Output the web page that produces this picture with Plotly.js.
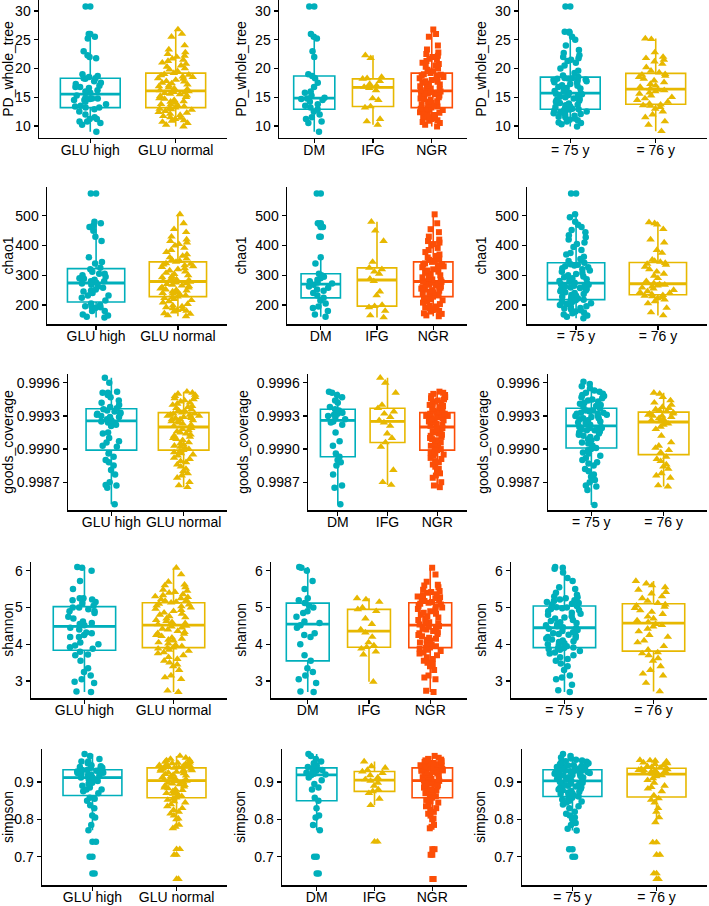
<!DOCTYPE html>
<html>
<head>
<meta charset="utf-8">
<script src="https://cdn.plot.ly/plotly-3.0.1.min.js"></script>
<style>html,body{margin:0;padding:0;background:#fff;}#chart{width:709px;height:906px;}</style>
</head>
<body>
<div id="chart"></div>
<script>
// ---------- categories ----------
const catsGLU = ['GLU high', 'GLU normal'];
const catsGroup = ['DM', 'IFG', 'NGR'];
const catsAge = ['= 75 y', '= 76 y'];
const metricNames = ['PD_whole_tree', 'chao1', 'goods_coverage', 'shannon', 'simpson'];

// ---------- tick values ----------
const pdTicks = [10, 15, 20, 25, 30];
const chaoTicks = [200, 300, 400, 500];
const goodsTicks = [0.9987, 0.9990, 0.9993, 0.9996];
const goodsTickText = ['0.9987', '0.9990', '0.9993', '0.9996'];
const shannonTicks = [3, 4, 5, 6];
const simpsonTicks = [0.7, 0.8, 0.9];

// ---------- PD_whole_tree ----------
const pdDM = [9.0,10.5,10.8,11.2,11.5,12.0,12.5,12.9,13.2,13.5,13.8,14.2,14.5,14.7,14.8,14.9,15.3,15.8,16.0,16.8,17.5,18.3,18.7,19.0,22.0,23.0,25.2,25.5,26.0,30.8];
const pdIFG = [10.2,10.8,11.2,13.2,13.4,14.5,14.8,16.2,16.6,16.8,17.0,17.3,17.8,18.2,18.3,18.5,21.8,22.3];
const pdNGR = [9.9,10.2,10.5,10.7,10.9,11.0,11.2,11.4,11.5,11.7,11.9,12.1,12.3,12.4,12.6,12.8,12.9,13.0,13.1,13.2,
  13.4,13.5,13.7,13.8,14.0,14.2,14.3,14.5,14.7,14.8,15.0,15.2,15.3,15.5,15.6,15.7,15.8,15.9,16.0,
  16.2,16.4,16.5,16.7,16.9,17.0,17.2,17.4,17.5,17.7,17.8,18.0,18.2,18.3,18.5,18.6,18.8,18.9,19.0,
  19.2,19.5,19.8,20.0,20.3,20.5,20.8,21.0,21.3,21.5,21.7,22.0,22.2,22.5,22.8,23.3,24.0,25.5,26.0,26.8];
const pd75 = [9.9,10.3,10.5,10.6,10.8,11.0,11.1,11.3,11.5,11.6,11.8,12.0,12.1,12.2,12.3,12.5,12.6,12.7,12.8,12.85,12.9,
  13.0,13.2,13.3,13.4,13.6,13.7,13.9,14.0,14.2,14.4,14.5,14.7,14.8,15.0,15.1,15.2,15.4,15.5,15.6,15.65,
  15.8,16.0,16.1,16.3,16.5,16.6,16.8,17.0,17.1,17.3,17.5,17.6,17.8,17.9,18.0,18.1,18.2,18.25,18.3,18.35,
  18.5,18.8,19.2,19.6,20.0,20.5,21.0,21.3,21.5,21.8,22.0,22.3,22.7,23.2,24.0,25.0,25.5,26.2,26.4,26.4,30.8];
const pd76 = [9.1,10.2,10.8,11.5,12.0,12.5,13.0,13.3,13.5,13.6,13.7,
  13.85,14.2,14.5,14.8,15.0,15.3,15.6,15.8,16.0,16.2,16.3,
  16.5,16.8,17.0,17.3,17.6,17.9,18.2,18.5,18.7,18.9,19.0,
  19.3,19.6,20.2,20.8,21.2,21.5,21.8,22.0,22.8,25.1,25.2];

// ---------- chao1 ----------
const chaoDM = [160,168,180,190,195,205,215,224,232,240,248,252,258,262,268,272,276,280,285,290,295,300,305,340,361,430,462,468,475,575];
const chaoIFG = [158,165,180,192,196,200,232,245,280,288,305,312,320,325,345,415,450,480];
const chaoNGR = [162,165,170,172,178,180,183,186,189,192,195,198,203,208,212,216,220,223,226,228,
  232,235,238,240,243,245,248,250,252,255,258,260,263,265,268,270,273,275,278,
  280,283,286,290,293,296,300,304,308,312,316,320,323,327,330,333,336,338,340,
  345,348,352,356,360,365,370,378,385,392,400,405,410,415,420,430,445,455,475,505];
const chao75 = [155,160,165,168,172,175,178,182,185,188,190,193,196,200,203,206,209,212,214,216,218,
  222,225,228,231,234,237,240,243,246,249,252,254,257,259,261,263,265,268,270,272,
  275,278,281,284,287,290,293,296,300,304,308,312,316,320,324,327,330,333,335,337,
  342,348,355,362,370,375,385,395,405,410,420,428,435,445,452,462,470,480,495,505,575];
const chao76 = [165,175,190,205,212,218,222,226,229,231,233,
  236,240,243,246,250,255,258,262,265,268,270,
  273,280,290,298,305,312,320,328,335,338,341,
  345,348,352,375,385,410,420,455,470,475,478];

// ---------- goods_coverage ----------
const goodsDM = [0.99850,0.99865,0.99867,0.99877,0.99885,0.99888,0.99890,0.99893,
  0.99896,0.99903,0.99907,0.99915,0.99922,0.99924,0.99925,
  0.99927,0.99929,0.99930,0.99931,0.99932,0.99933,0.99935,
  0.99936,0.99938,0.99942,0.99944,0.99947,0.99949,0.99951,0.99952];
const goodsIFG = [0.998675,0.99870,0.99881,0.99902,0.99906,0.99910,0.99914,0.99921,0.99924,
  0.99926,0.99929,0.99932,0.99934,0.99937,0.99940,0.99951,0.99960,0.999645];
const goodsNGR = [0.998655,0.99867,0.99870,0.99874,0.99876,0.99878,0.99880,0.99882,0.99884,0.99886,
  0.99888,0.99889,0.99891,0.99892,0.99894,0.99895,0.99896,0.99897,0.99898,0.99899,
  0.99900,0.99901,0.99902,0.99903,0.99904,0.99905,0.99906,0.99908,0.99909,0.99910,
  0.99911,0.99912,0.99913,0.99914,0.99915,0.99916,0.99917,0.99918,0.99919,
  0.99921,0.99922,0.99923,0.99924,0.99925,0.99925,0.99926,0.99927,0.99927,0.99928,
  0.99928,0.99929,0.99929,0.99930,0.99930,0.99931,0.99931,0.99932,0.99932,
  0.99933,0.99934,0.99935,0.99936,0.99937,0.99938,0.99939,0.99940,0.99941,0.99942,
  0.99943,0.99944,0.99945,0.99946,0.99947,0.99948,0.99949,0.99950,0.99951,0.99952];
const goods75 = [0.998494,0.99863,0.99866,0.99867,0.99870,0.99872,0.99875,0.99877,0.99880,0.99882,
  0.99885,0.99887,0.99888,0.99890,0.99892,0.99894,0.99896,0.99897,0.99899,0.99900,0.99901,
  0.99903,0.99905,0.99906,0.99908,0.99909,0.99910,0.99911,0.99912,0.99913,0.99914,
  0.99915,0.99916,0.99917,0.99917,0.99918,0.99918,0.99919,0.99919,0.99920,0.99920,
  0.99922,0.99923,0.99924,0.99925,0.99925,0.99926,0.99927,0.99928,0.99928,0.99929,
  0.99930,0.99930,0.99931,0.99932,0.99932,0.99933,0.99933,0.99934,0.99935,0.99935,
  0.99937,0.99938,0.99939,0.99940,0.99941,0.99942,0.99943,0.99944,0.99945,0.99946,
  0.99947,0.99948,0.99949,0.99950,0.99951,0.99952,0.99953,0.99955,0.99957,0.99959,0.99961];
const goods76 = [0.99866,0.99867,0.99874,0.99876,0.99878,0.99882,0.99884,0.99886,0.99889,0.99891,0.99893,
  0.99897,0.99899,0.99901,0.99903,0.99906,0.99912,0.99918,0.99920,0.99922,0.99923,0.99924,
  0.99925,0.99926,0.99927,0.99928,0.99929,0.99930,0.99930,0.99931,0.99932,0.99932,0.99933,
  0.99934,0.99935,0.99936,0.99937,0.99938,0.99940,0.99942,0.99944,0.99947,0.99950,0.99951];

// ---------- shannon ----------
const shanDM = [2.70,2.72,2.95,3.05,3.15,3.25,3.35,3.55,3.70,4.00,4.20,4.25,4.30,4.45,4.52,
  4.58,4.62,4.75,4.85,4.90,5.00,5.05,5.12,5.20,5.25,5.50,5.72,6.00,6.08,6.10];
const shanIFG = [2.98,3.72,3.80,3.88,3.92,3.97,4.05,4.20,4.32,4.40,4.55,4.70,4.90,4.95,5.00,5.15,5.22,5.25];
const shanNGR = [2.70,2.74,3.05,3.10,3.15,3.30,3.40,3.45,3.50,3.55,3.60,3.65,3.70,3.75,3.78,3.82,3.85,3.88,3.90,3.91,
  3.95,3.98,4.02,4.05,4.10,4.12,4.15,4.18,4.22,4.25,4.28,4.30,4.33,4.36,4.40,4.42,4.45,4.48,4.50,
  4.54,4.57,4.60,4.63,4.66,4.70,4.73,4.76,4.80,4.83,4.86,4.90,4.93,4.96,5.00,5.03,5.05,5.08,5.10,
  5.13,5.15,5.18,5.20,5.22,5.25,5.28,5.30,5.33,5.36,5.40,5.42,5.45,5.48,5.55,5.60,5.62,5.70,5.90,6.08];
const shan75 = [2.70,2.75,2.90,3.05,3.10,3.15,3.30,3.40,3.48,3.55,3.60,3.65,3.70,3.75,3.78,3.82,3.85,3.87,3.89,3.90,3.91,
  3.95,3.98,4.00,4.03,4.06,4.08,4.10,4.13,4.16,4.18,4.20,4.23,4.26,4.28,4.30,4.33,4.36,4.39,4.42,4.44,
  4.46,4.49,4.52,4.55,4.58,4.60,4.63,4.66,4.70,4.73,4.76,4.80,4.83,4.86,4.90,4.93,4.96,4.98,5.00,5.01,
  5.04,5.08,5.10,5.12,5.15,5.18,5.20,5.22,5.25,5.28,5.30,5.35,5.40,5.50,5.55,5.72,5.80,5.95,6.05,6.08,6.10];
const shan76 = [2.72,2.95,3.15,3.20,3.30,3.40,3.55,3.62,3.70,3.75,3.78,
  3.85,3.95,4.05,4.10,4.20,4.25,4.35,4.42,4.48,4.52,4.55,
  4.60,4.65,4.70,4.75,4.82,4.88,4.92,4.98,5.02,5.05,5.08,
  5.12,5.18,5.25,5.30,5.38,5.42,5.48,5.55,5.60,5.65,5.72];

// ---------- simpson ----------
const simpDM = [0.655,0.700,0.771,0.785,0.805,0.810,0.830,0.850,0.858,0.880,0.885,0.895,0.905,0.912,0.918,
  0.920,0.922,0.925,0.928,0.930,0.932,0.934,0.938,0.940,0.945,0.950,0.955,0.962,0.970,0.975];
const simpIFG = [0.740,0.838,0.855,0.870,0.875,0.880,0.890,0.898,0.903,0.907,0.912,0.918,0.924,0.928,0.932,0.938,0.942,0.955];
const simpNGR = [0.640,0.705,0.720,0.776,0.780,0.785,0.800,0.802,0.810,0.815,0.820,0.825,0.830,0.835,0.840,0.845,0.848,0.852,0.855,0.858,
  0.862,0.865,0.868,0.870,0.872,0.875,0.878,0.880,0.883,0.885,0.888,0.890,0.892,0.894,0.896,0.898,0.900,0.902,0.903,
  0.905,0.907,0.909,0.911,0.913,0.915,0.917,0.919,0.921,0.923,0.925,0.927,0.929,0.930,0.931,0.932,0.934,0.935,0.936,
  0.938,0.939,0.940,0.941,0.942,0.943,0.944,0.945,0.946,0.948,0.950,0.951,0.952,0.954,0.956,0.958,0.960,0.962,0.965,0.970];
const simp75 = [0.700,0.720,0.770,0.775,0.785,0.790,0.800,0.805,0.810,0.815,0.820,0.830,0.835,0.840,0.845,0.848,0.850,0.853,0.856,0.858,0.861,
  0.864,0.866,0.868,0.870,0.872,0.874,0.876,0.878,0.880,0.882,0.884,0.886,0.888,0.890,0.892,0.894,0.896,0.898,0.900,0.902,
  0.904,0.906,0.908,0.910,0.912,0.913,0.915,0.916,0.918,0.919,0.921,0.922,0.924,0.925,0.926,0.927,0.928,0.929,0.930,0.931,
  0.933,0.935,0.936,0.938,0.940,0.941,0.943,0.944,0.945,0.947,0.948,0.950,0.952,0.954,0.956,0.958,0.960,0.963,0.966,0.970,0.975];
const simp76 = [0.640,0.655,0.705,0.738,0.792,0.805,0.820,0.830,0.845,0.852,0.856,
  0.864,0.875,0.882,0.886,0.890,0.898,0.905,0.910,0.915,0.918,0.920,
  0.922,0.924,0.926,0.928,0.929,0.930,0.931,0.932,0.934,0.935,0.936,
  0.938,0.940,0.942,0.945,0.948,0.950,0.952,0.955,0.957,0.958,0.959];

// ---------- build ----------
const W = 709, H = 906;
const colors = ['#00AFBB', '#E7B800', '#FC4E07'];
const symbols = ['circle', 'triangle-up', 'square'];
const markerSizes = [6.5, 7.5, 6];

const metrics = [
  {name: metricNames[0], glu: [pdDM.concat(pdIFG), pdNGR], grp: [pdDM, pdIFG, pdNGR], age: [pd75, pd76],
   range: [8.0, 31.84], tickvals: pdTicks, ticktext: pdTicks.map(String)},
  {name: metricNames[1], glu: [chaoDM.concat(chaoIFG), chaoNGR], grp: [chaoDM, chaoIFG, chaoNGR], age: [chao75, chao76],
   range: [136, 597], tickvals: chaoTicks, ticktext: chaoTicks.map(String)},
  {name: metricNames[2], glu: [goodsDM.concat(goodsIFG), goodsNGR], grp: [goodsDM, goodsIFG, goodsNGR], age: [goods75, goods76],
   range: [0.998448, 0.99968], tickvals: goodsTicks, ticktext: goodsTickText},
  {name: metricNames[3], glu: [shanDM.concat(shanIFG), shanNGR], grp: [shanDM, shanIFG, shanNGR], age: [shan75, shan76],
   range: [2.54, 6.245], tickvals: shannonTicks, ticktext: shannonTicks.map(String)},
  {name: metricNames[4], glu: [simpDM.concat(simpIFG), simpNGR], grp: [simpDM, simpIFG, simpNGR], age: [simp75, simp76],
   range: [0.624, 0.9885], tickvals: simpsonTicks, ticktext: simpsonTicks.map(String)}
];

// linear-interpolation median (same method Plotly uses for its boxes)
function medianOf(vals) {
  const s = vals.slice().sort((a, b) => a - b);
  const p = 0.5 * (s.length - 1), lo = Math.floor(p), f = p - lo;
  return lo + 1 < s.length ? s[lo] + f * (s[lo + 1] - s[lo]) : s[lo];
}

// panel geometry in pixels
const colOffset = [0, 240, 480];
const colRight = [227, 467, 707];
const rowLeft = [39, 47, 68, 31, 42];
const rowTop = [0.4, 187, 374, 561.7, 749];
const rowBottom = [137.5, 324, 510, 698, 885];

const traces = [];
const layout = {
  width: W, height: H,
  margin: {l: 0, r: 0, t: 0, b: 0},
  showlegend: false,
  paper_bgcolor: '#ffffff', plot_bgcolor: '#ffffff',
  font: {family: 'Liberation Sans, Arial, sans-serif', size: 14, color: '#000000'},
  boxmode: 'overlay'
};

let k = 0;
metrics.forEach((m, r) => {
  const groups = [[catsGLU, m.glu], [catsGroup, m.grp], [catsAge, m.age]];
  groups.forEach(([cats, sets], c) => {
    k += 1;
    const xa = 'x' + (k === 1 ? '' : k), ya = 'y' + (k === 1 ? '' : k);
    const xName = 'xaxis' + (k === 1 ? '' : k), yName = 'yaxis' + (k === 1 ? '' : k);
    const left = colOffset[c] + rowLeft[r];
    const right = colRight[c];
    layout[xName] = {
      domain: [left / W, right / W], anchor: ya,
      type: 'category', categoryorder: 'array', categoryarray: cats,
      range: [-0.6, cats.length - 0.4],
      showline: true, linecolor: '#000', linewidth: 1.5, mirror: false,
      ticks: 'outside', ticklen: 4, tickwidth: 1.2, tickcolor: '#000',
      ticklabelstandoff: -5,
      showgrid: false, zeroline: false, fixedrange: true,
      tickfont: {size: 14, color: '#000'}
    };
    layout[yName] = {
      domain: [1 - rowBottom[r] / H, 1 - rowTop[r] / H], anchor: xa,
      range: m.range, tickmode: 'array', tickvals: m.tickvals, ticktext: m.ticktext,
      showline: true, linecolor: '#000', linewidth: 1.5,
      ticks: 'outside', ticklen: 4, tickwidth: 1.2, tickcolor: '#000',
      showgrid: false, zeroline: false, fixedrange: true,
      tickfont: {size: 14, color: '#000'},
      title: {text: m.name, font: {size: 14, color: '#000'}, standoff: 5}
    };
    sets.forEach((vals, g) => {
      const xs = vals.map(() => cats[g]);
      const mk = {color: colors[g], symbol: symbols[g], size: markerSizes[g], opacity: 1, line: {width: 0}};
      // box (white fill) with its outliers at the centre, as ggplot draws them
      traces.push({
        type: 'box', x: xs, y: vals, xaxis: xa, yaxis: ya,
        width: 0.7, whiskerwidth: 0,
        boxpoints: 'outliers', pointpos: 0, jitter: 0,
        fillcolor: '#ffffff',
        line: {color: colors[g], width: 1.6},
        marker: mk, hoverinfo: 'skip'
      });
      // thicker median line
      const med = medianOf(vals);
      traces.push({
        type: 'box', x: [cats[g]], q1: [med], median: [med], q3: [med],
        lowerfence: [med], upperfence: [med], xaxis: xa, yaxis: ya,
        width: 0.7, whiskerwidth: 0, boxpoints: false,
        fillcolor: 'rgba(0,0,0,0)',
        line: {color: colors[g], width: 2.8},
        hoverinfo: 'skip'
      });
      // jittered sample points on top
      traces.push({
        type: 'box', x: xs, y: vals, xaxis: xa, yaxis: ya,
        width: 0.7, whiskerwidth: 0,
        boxpoints: 'all', jitter: 0.65, pointpos: 0,
        fillcolor: 'rgba(0,0,0,0)',
        line: {color: 'rgba(0,0,0,0)', width: 0},
        marker: mk, hoverinfo: 'skip'
      });
    });
  });
});

Plotly.newPlot('chart', traces, layout, {displayModeBar: false, staticPlot: true});
</script>
</body>
</html>
